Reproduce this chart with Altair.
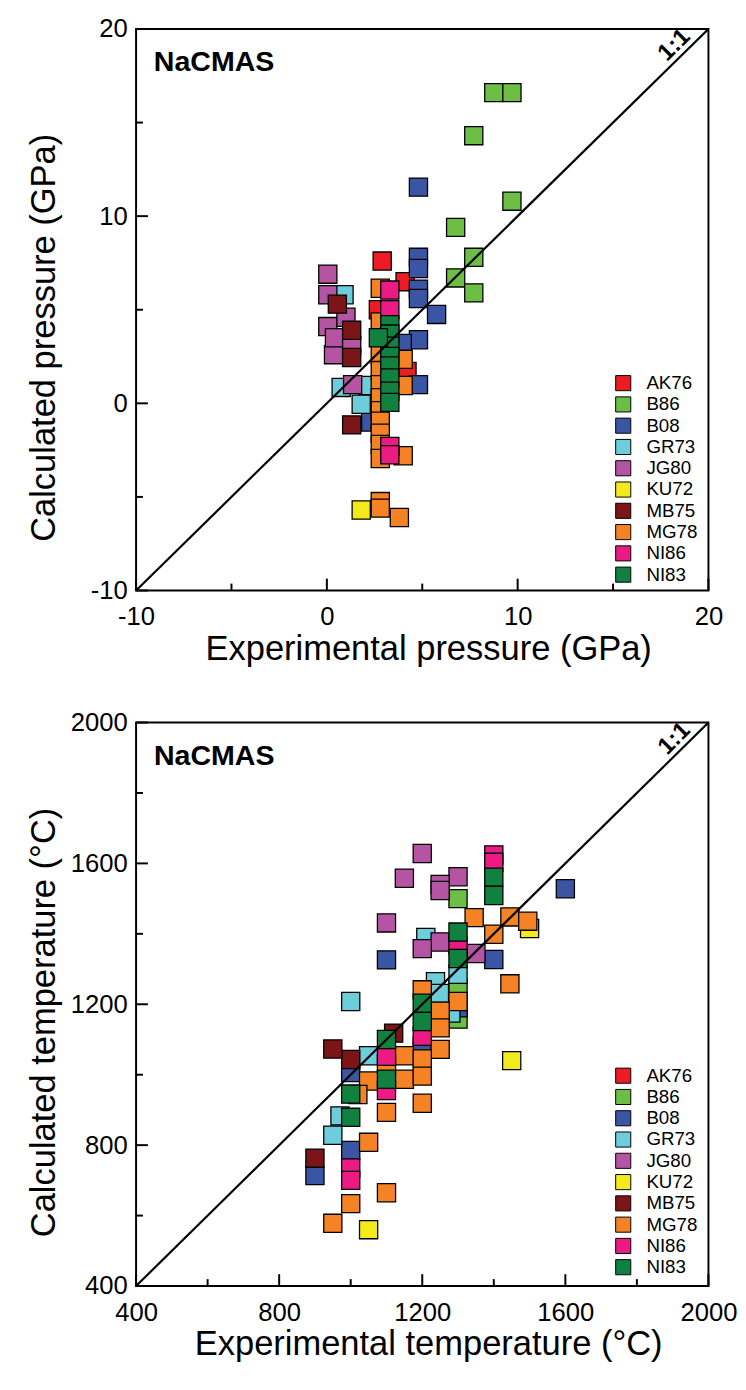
import altair as alt
import pandas as pd

FONT = "Liberation Sans"

series = ["AK76", "B86", "B08", "GR73", "JG80", "KU72", "MB75", "MG78", "NI86", "NI83"]
colors = ["#ED1C24", "#6CBE45", "#3B55A5", "#6DCDDB", "#B554A3",
          "#F3EA1B", "#7C1517", "#F58225", "#EC1A83", "#11813F"]

# ---------------- Pressure panel (GPa) ----------------
p_AK76_exp = [2.9, 4.1, 2.7, 4.2]
p_AK76_cal = [7.6, 6.5, 5.0, 1.7]
p_B86_exp = [8.75, 9.7, 7.7, 9.7, 6.75, 7.7, 6.75, 7.7]
p_B86_cal = [16.6, 16.6, 14.3, 10.8, 9.4, 7.8, 6.7, 5.9]
p_B08_exp = [4.8, 4.8, 4.8, 4.8, 4.8, 5.75, 4.8, 4.8, 3.95, 2.3]
p_B08_cal = [11.55, 7.8, 7.2, 6.1, 5.6, 4.75, 3.4, 1.0, 3.2, -1.0]
p_GR73_exp = [0.9, 0.75, 1.8, 2.15]
p_GR73_cal = [5.8, 0.85, -0.05, 0.95]
p_JG80_exp = [0.05, 0.05, 0.05, 0.35, 0.4, 1.0, 1.3, 1.35]
p_JG80_cal = [6.9, 5.8, 4.1, 2.6, 3.5, 4.6, 3.1, 1.0]
p_KU72_exp = [1.8]
p_KU72_cal = [-5.7]
p_MB75_exp = [0.55, 1.3, 1.3, 1.3]
p_MB75_cal = [5.3, 3.9, 2.45, -1.15]
p_MG78_exp = [2.8, 2.8, 2.8, 2.8, 2.8, 2.8, 2.8, 2.8, 2.8, 2.8, 2.8, 2.8, 2.8, 2.8,
              4.0, 4.0, 4.0, 3.8]
p_MG78_cal = [6.15, 4.35, 3.5, 2.6, 1.75, 1.0, 0.3, -0.4, -0.95, -1.6, -2.2, -2.95, -5.25, -5.6,
              2.35, 0.95, -2.8, -6.1]
p_NI86_exp = [3.3, 3.3, 3.3, 3.3]
p_NI86_cal = [6.05, 5.0, -2.3, -2.75]
p_NI83_exp = [3.3, 3.3, 3.3, 3.3, 3.3, 3.3, 3.3, 3.3, 2.7]
p_NI83_cal = [4.2, 3.7, 3.05, 2.5, 2.0, 1.35, 0.65, 0.05, 3.5]

# ---------------- Temperature panel (°C) ----------------
t_AK76_exp = []
t_AK76_cal = []
t_B86_exp = [1300, 1300, 1300]
t_B86_cal = [1500, 1246, 1158]
t_B08_exp = [1600, 1100, 1400, 1300, 1200, 1000, 1000, 900]
t_B08_cal = [1528, 1326, 1327, 1190, 1081, 1006, 785, 714]
t_GR73_exp = [1000, 1210, 1237, 1248, 1300, 1050, 1280, 970, 950]
t_GR73_cal = [1208, 1390, 1264, 1231, 1285, 1054, 1175, 883, 828]
t_JG80_exp = [1200, 1150, 1300, 1250, 1250, 1100, 1250, 1200, 1350]
t_JG80_cal = [1628, 1558, 1562, 1540, 1523, 1431, 1377, 1358, 1344]
t_KU72_exp = [1500, 1450, 1050]
t_KU72_cal = [1415, 1040, 560]
t_MB75_exp = [1120, 1000, 950, 900]
t_MB75_cal = [1118, 1043, 1073, 763]
t_MG78_exp = [1345, 1445, 1495, 1400, 1445, 1200, 1300, 1250, 1250, 1250, 1150, 1200,
              1150, 1200, 1050, 1100, 1200, 1100, 1050, 1000, 1100, 1020, 950]
t_MG78_cal = [1446, 1448, 1436, 1399, 1258, 1241, 1208, 1180, 1133, 1072, 1054, 1045,
              987, 996, 982, 1030, 919, 893, 808, 634, 665, 944, 578]
t_NI86_exp = [1400, 1400, 1300, 1200, 1100, 1100, 1000, 1000]
t_NI86_cal = [1624, 1603, 1368, 1109, 1052, 955, 735, 700]
t_NI83_exp = [1400, 1400, 1300, 1300, 1200, 1200, 1100, 1100, 1000, 1000]
t_NI83_cal = [1561, 1509, 1405, 1330, 1203, 1151, 1100, 987, 945, 879]

p_ticks_major = [-10, 0, 10, 20]
p_ticks_minor = [-5, 5, 15]
t_ticks_major = [400, 800, 1200, 1600, 2000]
t_ticks_minor = [600, 1000, 1400, 1800]


def build_df(prefix):
    g = globals()
    rows = []
    for s in series:
        ex = g[f"{prefix}_{s}_exp"]
        ca = g[f"{prefix}_{s}_cal"]
        for a, b in zip(ex, ca):
            rows.append({"exp": a, "cal": b, "src": s})
    return pd.DataFrame(rows)


def panel(df, lo, hi, major, minor, xtitle, ytitle, w, h, name_pos, ratio_pos,
          ytitle_shift, legend_y):
    xs = alt.Scale(domain=[lo, hi], nice=False, zero=False)
    ys = alt.Scale(domain=[lo, hi], nice=False, zero=False)
    common = dict(values=major, labelExpr="'' + datum.value", labelFontSize=26,
                  labelFont=FONT, labelColor="black", ticks=False, tickSize=0,
                  domain=False, grid=False, titleFontSize=35, titleFont=FONT,
                  titleFontWeight="normal", titleColor="black", labelOverlap=False)
    xaxis = alt.Axis(title=xtitle, labelPadding=14, titlePadding=2,
                     labelFlush=False, titleX=w / 2 + 6, **common)
    yaxis = alt.Axis(title=ytitle, labelPadding=9, titlePadding=6,
                     minExtent=70, titleY=h / 2 + ytitle_shift, **common)

    def X(f):
        return alt.X(f, scale=xs, axis=xaxis)

    def Y(f):
        return alt.Y(f, scale=ys, axis=yaxis)

    pts = alt.Chart(df).mark_square(size=340, stroke="black", strokeWidth=1.3,
                                    opacity=1).encode(
        x=X("exp:Q"),
        y=Y("cal:Q"),
        fill=alt.Fill("src:N", scale=alt.Scale(domain=series, range=colors),
                      sort=series,
                      legend=alt.Legend(orient="none", legendX=w - 96, legendY=legend_y,
                                        title=None, symbolType="square",
                                        symbolSize=235, symbolStrokeColor="black",
                                        symbolStrokeWidth=1, symbolOpacity=1,
                                        labelFontSize=19, labelFont=FONT,
                                        labelColor="black", rowPadding=0.6,
                                        labelOffset=14, padding=0)),
    )

    diag = alt.Chart(pd.DataFrame({"x0": [lo], "y0": [lo], "x1": [hi], "y1": [hi]})).mark_rule(
        color="black", strokeWidth=2.2).encode(
        x=X("x0:Q"), y=Y("y0:Q"), x2="x1:Q", y2="y1:Q")

    name = alt.Chart(pd.DataFrame({"x": [name_pos[0]], "y": [name_pos[1]], "t": ["NaCMAS"]})).mark_text(
        align="left", baseline="middle", font=FONT, fontSize=29, fontWeight="bold",
        color="black").encode(x=X("x:Q"), y=Y("y:Q"), text="t:N")

    ratio = alt.Chart(pd.DataFrame({"x": [ratio_pos[0]], "y": [ratio_pos[1]], "t": ["1:1"]})).mark_text(
        align="center", baseline="middle", font=FONT, fontSize=24, fontWeight="bold",
        angle=315, color="black").encode(x=X("x:Q"), y=Y("y:Q"), text="t:N")

    xt_major = alt.Chart(pd.DataFrame({"v": major})).mark_rule(color="black", strokeWidth=2).encode(
        x=X("v:Q"), y=alt.value(h), y2=alt.value(h - 12))
    xt_minor = alt.Chart(pd.DataFrame({"v": minor})).mark_rule(color="black", strokeWidth=2).encode(
        x=X("v:Q"), y=alt.value(h), y2=alt.value(h - 7))
    yt_major = alt.Chart(pd.DataFrame({"v": major})).mark_rule(color="black", strokeWidth=2).encode(
        y=Y("v:Q"), x=alt.value(0), x2=alt.value(12))
    yt_minor = alt.Chart(pd.DataFrame({"v": minor})).mark_rule(color="black", strokeWidth=2).encode(
        y=Y("v:Q"), x=alt.value(0), x2=alt.value(7))

    return alt.layer(pts, diag, xt_major, xt_minor, yt_major, yt_minor, name, ratio).properties(
        width=w, height=h)


W = 581
top = panel(build_df("p"), -10, 20, p_ticks_major, p_ticks_minor,
            "Experimental pressure (GPa)", "Calculated pressure (GPa)", W, 570,
            (-9.07, 18.25), (18.21, 19.14), 28, 350)
bottom = panel(build_df("t"), 400, 2000, t_ticks_major, t_ticks_minor,
               "Experimental temperature (°C)", "Calculated temperature (°C)", W, 572,
               (450, 1904), (1905, 1954), 18, 349)

chart = alt.vconcat(top, bottom, spacing=42).resolve_scale(
    x="independent", y="independent", fill="independent").resolve_legend(
    fill="independent").properties(
    padding={"left": 18, "top": -3, "right": 0, "bottom": 0}).configure(
    font=FONT, background="white").configure_view(stroke="black", strokeWidth=2)

chart.save("out.html", embed_options={"renderer": "svg", "actions": False})
